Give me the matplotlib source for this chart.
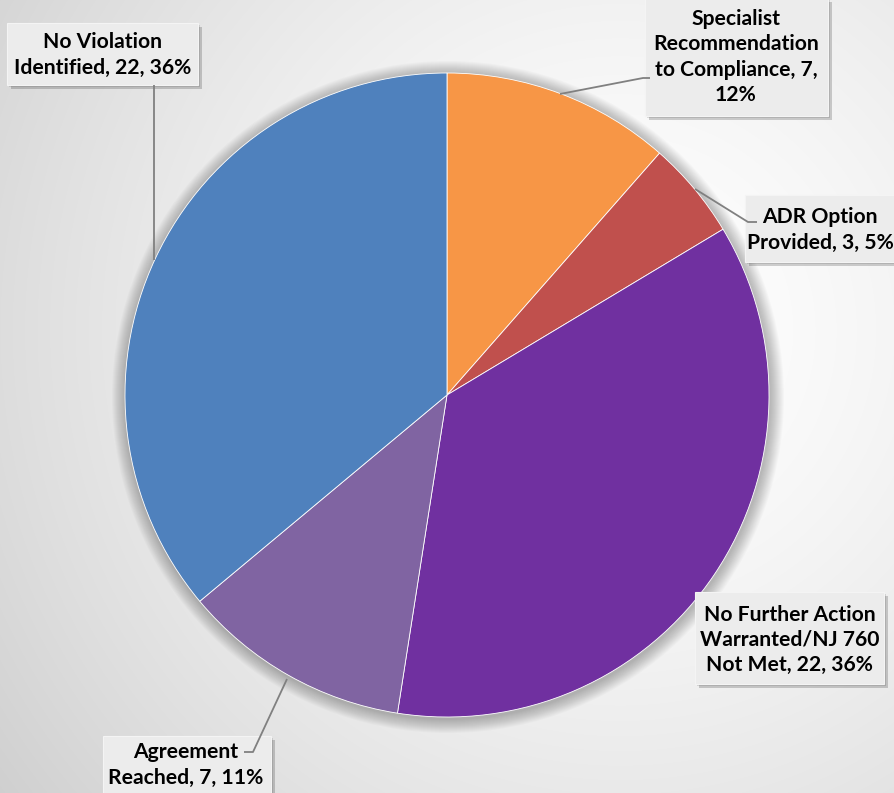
import numpy as np
import matplotlib
matplotlib.use("Agg")
import matplotlib.pyplot as plt
from matplotlib.patches import Rectangle, Circle

# ---- data ----
categories = ["Specialist Recommendation to Compliance", "ADR Option Provided",
              "No Further Action Warranted/NJ 760 Not Met", "Agreement Reached",
              "No Violation Identified"]
values = [7, 3, 22, 7, 22]
percents = [12, 5, 36, 11, 36]
label_lines = [["Specialist", "Recommendation", "to Compliance, {v},", "{p}%"],
               ["ADR Option", "Provided, {v}, {p}%"],
               ["No Further Action", "Warranted/NJ 760", "Not Met, {v}, {p}%"],
               ["Agreement", "Reached, {v}, {p}%"],
               ["No Violation", "Identified, {v}, {p}%"]]
colors = ["#F79646", "#C0504D", "#7030A0", "#8064A2", "#4F81BD"]

W, H = 895, 793
fig = plt.figure(figsize=(W / 100, H / 100), dpi=100)
ax = fig.add_axes([0, 0, 1, 1])

# background radial gradient
yy, xx = np.mgrid[0:H, 0:W]
d = np.sqrt((xx - 620) ** 2 + (yy - 330) ** 2) / 700
g = 1.0 - 0.16 * np.clip(d, 0, 1.2) ** 1.5
bg = np.dstack([g, g, g])
ax.imshow(bg, extent=[0, W, 0, H], origin="upper", zorder=0, aspect="auto")

cx, cy, R = 447, H - 395, 322
# soft shadow around pie
for k in range(14, 0, -1):
    ax.add_patch(Circle((cx + 1, cy - 2), R + k, color="black",
                        alpha=0.018, lw=0, zorder=1))

wedges, _ = ax.pie(values, colors=colors, startangle=90, counterclock=False,
                   center=(cx, cy), radius=R,
                   wedgeprops=dict(edgecolor="white", linewidth=0.6, zorder=2))
for w in wedges:
    w.set_zorder(2)

# label boxes (layout): x0, y0(top), x1, y1(bottom), text center x, y (image coords)
boxes = [(645, -2, 828, 116, 736, 57),
         (745, 195, 900, 262, 820, 230),
         (695, 592, 884, 684, 790, 640),
         (103, 736, 271, 800, 186, 765),
         (7, 23, 198, 85, 103, 55)]
leaders = [[(560, 94), (643, 78), (650, 78)],
           [(695, 189), (748, 222), (757, 222)],
           None,
           [(287, 679), (253, 752), (244, 752)],
           [(154, 85), (154, 260)]]

for i in range(len(values)):
    x0, y0, x1, y1, tx, ty = boxes[i]
    # shadow
    ax.add_patch(Rectangle((x0 + 4, H - y1 - 4), x1 - x0, y1 - y0,
                           facecolor="black", alpha=0.18, lw=0, zorder=3))
    ax.add_patch(Rectangle((x0 + 2, H - y1 - 2), x1 - x0, y1 - y0,
                           facecolor="black", alpha=0.12, lw=0, zorder=3))
    ax.add_patch(Rectangle((x0, H - y1), x1 - x0, y1 - y0,
                           facecolor="#ececec", edgecolor="#f4f4f4", lw=0.8, zorder=4))
    txt = "\n".join(s.format(v=values[i], p=percents[i]) for s in label_lines[i])
    ax.text(tx, H - ty, txt, ha="center", va="center", fontsize=15.2,
            fontweight="bold", family=["Lato", "DejaVu Sans"], color="black",
            linespacing=1.32, zorder=5)
    if leaders[i]:
        xs = [p[0] for p in leaders[i]]
        ys = [H - p[1] for p in leaders[i]]
        ax.plot(xs, ys, color="#808080", lw=1.3, zorder=5, solid_capstyle="butt")

ax.set_xlim(0, W)
ax.set_ylim(0, H)
ax.set_aspect("auto")
ax.axis("off")
fig.savefig("out.png", dpi=100)
